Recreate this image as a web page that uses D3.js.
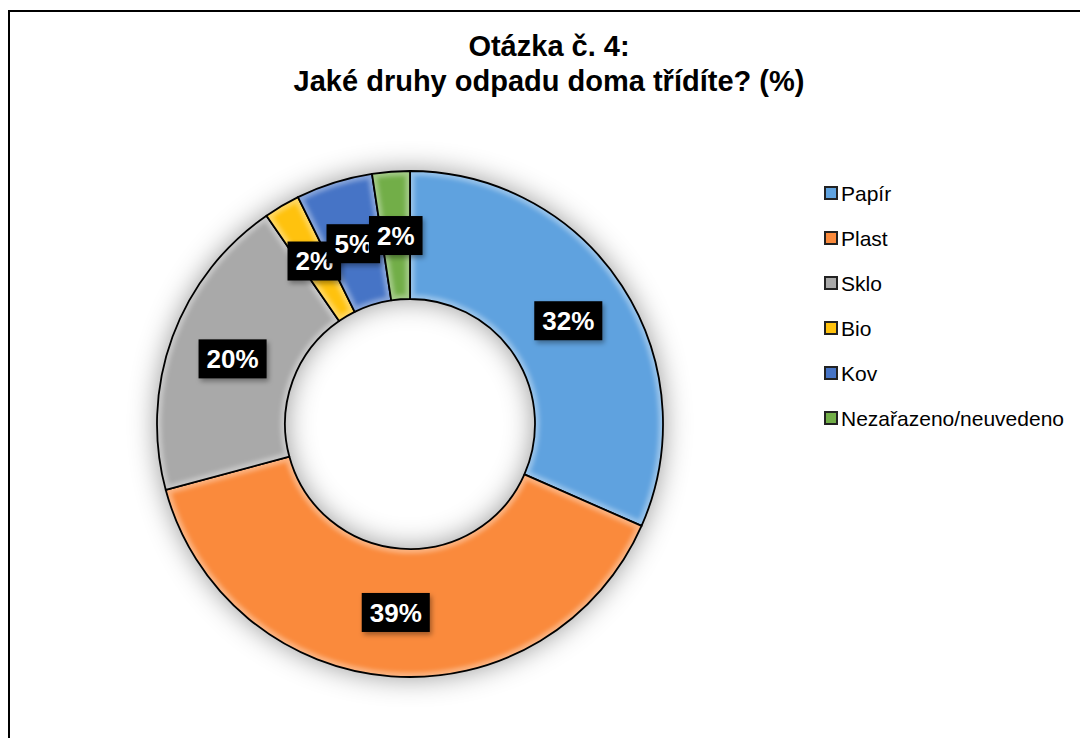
<!DOCTYPE html>
<html>
<head>
<meta charset="utf-8">
<script src="https://cdn.jsdelivr.net/npm/d3@7"></script>
<style>
  body { margin: 0; background: #fff; }
  svg { display: block; font-family: Arial, "Liberation Sans", sans-serif; }
</style>
</head>
<body>
<svg id="chart"></svg>
<script>
// data
var categories = ["Papír", "Plast", "Sklo", "Bio", "Kov", "Nezařazeno/neuvedeno"];
var values = [31.6, 39.2, 19.6, 2.3, 4.9, 2.4];
var colors = ["#5fa2df", "#fa8a3c", "#a9a9a9", "#ffc20e", "#4674c6", "#72ae48"];
var titleLines = ["Otázka č. 4:", "Jaké druhy odpadu doma třídíte? (%)"];

var width = 1080, height = 738;
var cx = 410, cy = 424, outerR = 253, innerR = 125;

var svg = d3.select("#chart").attr("width", width).attr("height", height);
var defs = svg.append("defs");

var shadow = defs.append("filter").attr("id", "shadow")
  .attr("x", "-30%").attr("y", "-30%").attr("width", "160%").attr("height", "160%");
shadow.append("feDropShadow").attr("dx", 0).attr("dy", 0)
  .attr("stdDeviation", 14).attr("flood-color", "#000").attr("flood-opacity", 0.42);

var soft = defs.append("filter").attr("id", "soft");
soft.append("feGaussianBlur").attr("stdDeviation", 2);

var boxShadow = defs.append("filter").attr("id", "boxShadow")
  .attr("x", "-20%").attr("y", "-20%").attr("width", "150%").attr("height", "160%");
boxShadow.append("feDropShadow").attr("dx", 2).attr("dy", 3)
  .attr("stdDeviation", 2.5).attr("flood-color", "#000").attr("flood-opacity", 0.35);

// frame
svg.append("rect")
  .attr("x", 9).attr("y", 11)
  .attr("width", width + 20).attr("height", height + 20)
  .attr("fill", "none").attr("stroke", "#000").attr("stroke-width", 2);

// title
svg.append("g").selectAll("text")
  .data(titleLines)
  .enter().append("text")
  .attr("x", 549)
  .attr("y", function(d, i) { return 56 + i * 35; })
  .attr("text-anchor", "middle")
  .attr("font-size", 29)
  .attr("font-weight", "bold")
  .attr("fill", "#000")
  .text(function(d) { return d; });

var pie = d3.pie().sort(null).value(function(d) { return d; });
var arcs = pie(values);
var arc = d3.arc().innerRadius(innerR).outerRadius(outerR);

var g = svg.append("g").attr("transform", "translate(" + cx + "," + cy + ")");

// shadow under the ring
g.append("g").attr("filter", "url(#shadow)")
  .selectAll("path")
  .data(arcs)
  .enter().append("path")
  .attr("d", arc)
  .attr("fill", function(d, i) { return colors[i]; });

// clip paths for bevel highlight
defs.selectAll("clipPath.slice")
  .data(arcs)
  .enter().append("clipPath")
  .attr("class", "slice")
  .attr("id", function(d, i) { return "clip" + i; })
  .append("path")
  .attr("transform", "translate(" + cx + "," + cy + ")")
  .attr("d", arc);

var slices = g.append("g").selectAll("g")
  .data(arcs)
  .enter().append("g");

slices.append("path")
  .attr("d", arc)
  .attr("fill", function(d, i) { return colors[i]; });

// bevel: light inner rim, blurred, clipped to the slice
slices.append("g")
  .attr("clip-path", function(d, i) { return "url(#clip" + i + ")"; })
  .attr("transform", "translate(" + (-cx) + "," + (-cy) + ")")
  .append("path")
  .attr("transform", "translate(" + cx + "," + cy + ")")
  .attr("d", arc)
  .attr("fill", "none")
  .attr("stroke", "#fff")
  .attr("stroke-opacity", 0.35)
  .attr("stroke-width", 9)
  .attr("filter", "url(#soft)");

slices.append("path")
  .attr("d", arc)
  .attr("fill", "none")
  .attr("stroke", "#000")
  .attr("stroke-width", 1.8)
  .attr("stroke-linejoin", "round");

// data labels
var labels = g.append("g").selectAll("g")
  .data(arcs)
  .enter().append("g")
  .attr("transform", function(d) {
    var c = arc.centroid(d);
    return "translate(" + c[0] + "," + c[1] + ")";
  });

labels.append("text")
  .attr("text-anchor", "middle")
  .attr("dy", "0.36em")
  .attr("font-size", 26)
  .attr("font-weight", "bold")
  .attr("fill", "#fff")
  .text(function(d) { return Math.round(d.data) + "%"; })
  .each(function() {
    var b = this.getBBox();
    d3.select(this.parentNode).insert("rect", "text")
      .attr("x", b.x - 8).attr("y", -19.5)
      .attr("width", b.width + 16).attr("height", 39)
      .attr("fill", "#000")
      .attr("filter", "url(#boxShadow)");
  });

// legend
var legend = svg.append("g").selectAll("g")
  .data(categories)
  .enter().append("g")
  .attr("transform", function(d, i) { return "translate(825," + (193 + i * 45) + ")"; });

legend.append("rect")
  .attr("x", 0).attr("y", -6)
  .attr("width", 12).attr("height", 12)
  .attr("fill", function(d, i) { return colors[i]; })
  .attr("stroke", "#222").attr("stroke-width", 2);

legend.append("text")
  .attr("x", 16)
  .attr("dy", "0.36em")
  .attr("font-size", 21)
  .attr("fill", "#000")
  .text(function(d) { return d; });
</script>
</body>
</html>
